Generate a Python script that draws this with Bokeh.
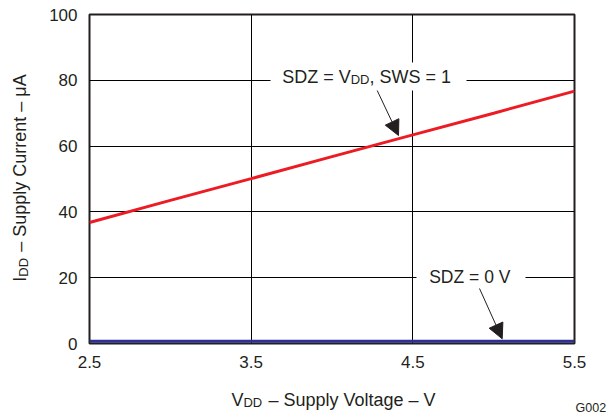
import math
from bokeh.plotting import figure
from bokeh.models import Range1d, FixedTicker, Label, Arrow, NormalHead, BoxAnnotation
from bokeh.embed import file_html
from bokeh.resources import INLINE

# ---- data ----
vdd = [2.5, 3.0, 3.5, 4.0, 4.5, 5.0, 5.5]
idd_sdz_vdd = [36.8, 43.5, 50.1, 56.8, 63.4, 70.0, 76.7]
idd_sdz_0v = [0.7, 0.7, 0.7, 0.7, 0.7, 0.7, 0.7]
x_ticks = [2.5, 3.5, 4.5, 5.5]
y_ticks = [0, 20, 40, 60, 80, 100]
x_lim = (2.5, 5.5)
y_lim = (0, 100)

TEXT = "#231f20"
FONT = "Liberation Sans"
RED = "#ed1c24"
BLUE = "#2e3192"
NB = "\u00a0"

# frame geometry in canvas pixels (used only to place annotations)
FL, FR, FT, FB = 89, 574, 14, 343
BASE_FIX = 6  # renderer places "alphabetic" baseline this much lower


def px2x(px):
    return x_lim[0] + (px - FL) * (x_lim[1] - x_lim[0]) / (FR - FL)


def px2y(py):
    return y_lim[0] + (FB - py) * (y_lim[1] - y_lim[0]) / (FB - FT)


W = {' ': 0.278, NB: 0.278, '–': 0.556, 'S': 0.667, 'u': 0.556, 'p': 0.556, 'l': 0.222,
     'y': 0.5, 'V': 0.667, 'o': 0.556, 't': 0.278, 'a': 0.556, 'g': 0.556, 'e': 0.556,
     'C': 0.722, 'r': 0.333, 'n': 0.556, 'μ': 0.576, 'A': 0.667, 'I': 0.278, 'D': 0.722,
     'Z': 0.611, '=': 0.584, ',': 0.278, 'W': 0.944, '1': 0.556, '0': 0.556}


def tw(t, s):
    return sum(W.get(c, 0.556) for c in t) * s


p = figure(width=615, height=417, min_border_left=FL, min_border_right=615 - FR,
           min_border_top=FT, min_border_bottom=417 - FB,
           x_range=Range1d(*x_lim), y_range=Range1d(*y_lim),
           output_backend="svg", toolbar_location=None,
           background_fill_color="white", border_fill_color="white")

p.xaxis.ticker = FixedTicker(ticks=x_ticks)
p.yaxis.ticker = FixedTicker(ticks=y_ticks)
for ax in (p.xaxis[0], p.yaxis[0]):
    ax.axis_line_color = None
    ax.major_tick_line_color = None
    ax.minor_tick_line_color = None
    ax.major_tick_in = 0
    ax.major_tick_out = 0
    ax.major_label_text_font = FONT
    ax.major_label_text_font_size = "17px"
    ax.major_label_text_color = TEXT
p.xaxis.major_label_standoff = 12
p.yaxis.major_label_standoff = 12

p.grid.grid_line_color = "black"
p.grid.grid_line_width = 1
p.grid.grid_line_alpha = 1
p.outline_line_color = TEXT
p.outline_line_width = 2

p.line(vdd, idd_sdz_0v, line_color=BLUE, line_width=3)
p.line(vdd, idd_sdz_vdd, line_color=RED, line_width=3)

# white gaps behind annotation texts
p.add_layout(BoxAnnotation(left=px2x(270), right=px2x(466), top=px2y(62), bottom=px2y(90),
                           fill_color="white", fill_alpha=1, line_color=None))
p.add_layout(BoxAnnotation(left=px2x(416), right=px2x(525), top=px2y(266), bottom=px2y(290),
                           fill_color="white", fill_alpha=1, line_color=None))


def put(t, px, py, s, angle=0.0, align="left", place="center"):
    if angle == 0:
        py = py - BASE_FIX
    else:
        px = px - BASE_FIX
    lab = Label(x=px2x(px), y=px2y(py), text=t, text_font=FONT,
                text_font_size=f"{s}px", text_color=TEXT,
                text_baseline="alphabetic", text_align=align, angle=angle)
    if place == "center":
        p.add_layout(lab)
    else:
        p.add_layout(lab, place)


def rich(pieces, px, py, size, sub_size, drop, angle=0.0, center=False, place="center"):
    total = sum(tw(t, sub_size if sb else size) for t, sb in pieces)
    pos = -total / 2 if center else 0
    for t, sb in pieces:
        s = sub_size if sb else size
        d = drop if sb else 0
        if angle == 0:
            put(t, px + pos, py + d, s, place=place)
        else:
            put(t, px + d, py - pos, s, angle=angle, place=place)
        pos += tw(t, s)


def titled(head, sub, tail, px, py, size, sub_size, drop, angle, place):
    gap_n = max(1, round(tw(sub, sub_size) / tw(NB, size)))
    main = head + NB * gap_n + tail
    total = tw(main, size)
    start = -total / 2
    sub_at = start + tw(head, size)
    if angle == 0:
        put(main, px + start, py, size, place=place)
        put(sub, px + sub_at, py + drop, sub_size, place=place)
    else:
        put(main, px, py - start, size, angle=angle, place=place)
        put(sub, px + drop, py - sub_at, sub_size, angle=angle, place=place)


# axis titles (in side panels so they are not clipped to the frame)
titled("V", "DD", " – Supply Voltage – V", 333.5, 405, 18, 13, 3, 0.0, "below")
titled("I", "DD", " – Supply Current – μA", 25.5, 177.5, 18, 13, 3, math.pi / 2, "left")

# annotations
rich([("SDZ = V", False), ("DD", True), (", SWS = 1", False)], 281.7, 82.3, 18, 13, 3)
rich([("SDZ = 0 V", False)], 428.7, 282, 17.5, 12.5, 3)

p.add_layout(Arrow(x_start=px2x(376.7), y_start=px2y(90), x_end=px2x(398), y_end=px2y(135),
                   line_color=TEXT, line_width=1,
                   end=NormalHead(size=15, fill_color=TEXT, line_color=TEXT)))
p.add_layout(Arrow(x_start=px2x(479), y_start=px2y(288), x_end=px2x(501.7), y_end=px2y(338.3),
                   line_color=TEXT, line_width=1,
                   end=NormalHead(size=15, fill_color=TEXT, line_color=TEXT)))

put("G002", 605.7, 413, 12.5, align="right", place="right")

open("out.html", "w").write(file_html(p, INLINE))
